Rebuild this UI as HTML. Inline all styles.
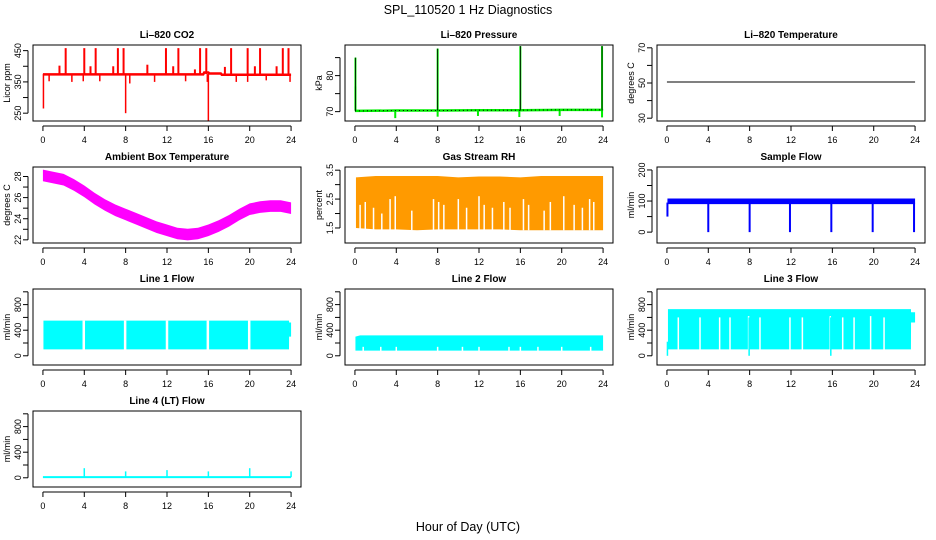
<!DOCTYPE html>
<html><head><meta charset="utf-8"><style>
html,body{margin:0;padding:0;background:#fff;}
svg{display:block;font-family:"Liberation Sans",Arial,sans-serif;}
</style></head><body>
<svg id="chart" width="936" height="540" viewBox="0 0 936 540">
<text x="468" y="14" text-anchor="middle" font-size="12.5">SPL_110520  1 Hz Diagnostics</text>
<text x="468" y="531" text-anchor="middle" font-size="12.5">Hour of Day (UTC)</text>
</svg>
<script>
// ---------- data ----------
const xTicks=[0,4,8,12,16,20,24];
// CO2
const co2BaseX=[0,15.5,15.6,16.0,16.1,17.2,17.3,24];
const co2BaseY=[374,374,380,380,377,377,373,373];
const co2SpikeX=[2.2,4.0,5.1,7.25,7.8,10.1,11.9,13.1,15.2,15.8,18.2,19.8,21.0,23.2,23.75,1.6,4.6,6.8,12.6,14.7,17.6,20.5,22.6];
const co2SpikeY=[458,458,458,458,458,405,458,458,458,458,458,458,458,458,458,402,400,400,400,390,398,400,400];
const co2DipX=[0.05,8.0,16.0,0.6,2.8,3.9,5.5,8.4,10.8,13.8,15.9,18.7,19.8,21.6,23.9];
const co2DipY=[265,250,225,352,350,352,352,345,350,352,350,350,350,355,350];
// Pressure
const presX=[0,4,8,12,16,20,24];
const presY=[70.2,70.3,70.3,70.4,70.4,70.5,70.5];
const presSpikeX=[0.05,8,16,23.9];
const presSpikeY=[85,87.5,88.2,88.2];
const presDipX=[3.9,8,11.9,15.9,19.8,23.9];
const presDipY=[68.2,68.6,68.8,68.5,68.8,68.4];
// Li-820 temperature
const tempX=[0,24];
const tempY=[50.6,50.6];
// Ambient box temperature
const ambX=[0,1,2,3,4,5,6,7,8,9,10,11,12,13,14,15,16,17,18,19,20,21,22,23,24];
const ambY=[28.1,27.9,27.7,27.2,26.6,25.9,25.3,24.8,24.4,24.0,23.6,23.2,22.9,22.6,22.5,22.6,22.9,23.3,23.8,24.4,24.9,25.1,25.2,25.2,25.0];
const ambHalf=[0.55];
// Gas stream RH
const rhX=[0.1,2,4,6,8,10,12,14,16,18,20,22,24];
const rhLo=[1.5,1.45,1.45,1.42,1.45,1.45,1.45,1.45,1.42,1.42,1.42,1.42,1.42];
const rhHi=[3.25,3.3,3.3,3.3,3.3,3.25,3.28,3.28,3.25,3.3,3.3,3.3,3.3];
const rhGapX=[0.5,1.0,1.8,2.6,3.4,3.9,5.5,7.6,8.1,8.6,10.0,10.8,12.0,12.5,13.3,14.4,15.0,16.3,16.8,18.3,18.9,20.2,21.2,22.0,22.7,23.1];
const rhGapTop=[2.3,2.4,2.2,2.0,2.5,2.6,2.1,2.5,2.4,2.3,2.5,2.2,2.6,2.3,2.2,2.4,2.2,2.5,2.3,2.1,2.4,2.6,2.3,2.2,2.5,2.4];
// Sample flow
const sfX=[0.05,24];
const sfLo=[90,90];
const sfHi=[108,108];
const sfDipX=[0.05,4,8,11.9,15.9,19.9,23.9];
const sfDipY=[50,0,0,0,0,0,0];
// Line flows
const l1X=[0.05,23.8,23.81,24];
const l1Lo=[100,100,300,300];
const l1Hi=[550,550,520,520];
const l1GapX=[3.95,7.95,12.0,15.95,19.95];
const l1GapTop=[550,550,550,550,550];
const l2X=[0.05,0.5,24];
const l2Lo=[80,80,80];
const l2Hi=[300,320,320];
const l2GapX=[0.8,2.5,4.0,8.0,10.4,12.0,14.9,16.0,17.7,20.0,22.8];
const l2GapTop=[140,140,140,140,140,140,140,140,140,140,140];
const l3X=[0.1,23.6,23.61,24];
const l3Lo=[100,100,520,520];
const l3Hi=[730,730,680,680];
const l3GapX=[1.1,3.2,5.1,6.1,7.9,9.0,11.9,13.1,15.8,17.0,18.1,19.7,21.0];
const l3GapTop=[600,600,600,600,620,600,600,600,620,600,600,620,600];
const l4X=[0,24];
const l4Y=[10,10];
const l4SpikeX=[4,8,12,16,20,24];
const l4SpikeY=[150,100,120,100,150,100];

// ---------- drawing ----------
const NS='http://www.w3.org/2000/svg';
const svg=document.getElementById('chart');
function mk(tag,attrs,parent){const e=document.createElementNS(NS,tag);for(const k in attrs)e.setAttribute(k,attrs[k]);(parent||svg).appendChild(e);return e;}
function panel(col,row,title,ylab,ymin,ymax,ticks,labels,name){
  const L=33+col*312,T=45+row*122,W=268,H=76;
  const g=mk('g',{});
  
  
  const xs=v=>L+W*(v+0.96)/25.92;
  const ys=v=>T+H-H*(v-ymin)/(ymax-ymin);
  const plot=mk('g',{},g);
  
  
  const fr=mk('rect',{x:L,y:T,width:W,height:H,fill:'none',stroke:'#000','stroke-width':1},g);
  
  
  const t=mk('text',{x:L+W/2,y:T-7,'text-anchor':'middle','font-size':10,'font-weight':'bold'},g);
  t.textContent=title;
  
  
  if(ylab){const yl=mk('text',{x:0,y:0,'text-anchor':'middle','font-size':9,transform:`translate(${L-23},${T+H/2}) rotate(-90)`},g);
  yl.textContent=ylab;
  
  }
  const xa=mk('g',{},g);
  
  
  mk('line',{x1:xs(0),x2:xs(24),y1:T+H+5,y2:T+H+5,stroke:'#000'},xa);
  xTicks.forEach(v=>{mk('line',{x1:xs(v),x2:xs(v),y1:T+H+5,y2:T+H+10,stroke:'#000'},xa);
    const tl=mk('text',{x:xs(v),y:T+H+22,'text-anchor':'middle','font-size':9},xa);tl.textContent=v;
    
    });
  const ya=mk('g',{},g);
  
  
  mk('line',{x1:L-5,x2:L-5,y1:ys(ticks[0]),y2:ys(ticks[ticks.length-1]),stroke:'#000'},ya);
  ticks.forEach(v=>{mk('line',{x1:L-5,x2:L-10,y1:ys(v),y2:ys(v),stroke:'#000'},ya);});
  labels.forEach(v=>{const tl=mk('text',{x:0,y:0,'text-anchor':'middle','font-size':9,transform:`translate(${L-12},${ys(v)}) rotate(-90)`},ya);tl.textContent=v;
    
    });
  return {g:plot,xs,ys};
}
function line(p,X,Y,attrs,name){const el=mk('polyline',Object.assign({points:X.map((x,i)=>p.xs(x)+','+p.ys(Y[i])).join(' '),fill:'none'},attrs),p.g);
  
  return el;}
function band(p,X,Lo,Hi,fill,name){const pts=X.map((x,i)=>p.xs(x)+','+p.ys(Hi[i])).concat(X.slice().reverse().map((x,j)=>p.xs(x)+','+p.ys(Lo[X.length-1-j])));
  const el=mk('polygon',{points:pts.join(' '),fill:fill},p.g);
  
  return el;}
function segs(p,X,Y0,Y,stroke,w,name){X.forEach((x,i)=>{const y0=Array.isArray(Y0)?Y0[i]:Y0;
  const el=mk('line',{x1:p.xs(x),x2:p.xs(x),y1:p.ys(y0),y2:p.ys(Y[i]),stroke:stroke,'stroke-width':w},p.g);
  
  });}

// CO2
let p=panel(0,0,'Li\u2013820 CO2','Licor ppm',225,468,[250,300,350,400,450],[250,350,450],'co2');
line(p,co2BaseX,co2BaseY,{stroke:'#ff0000','stroke-width':2.5},'co2-line');
segs(p,co2SpikeX,375,co2SpikeY,'#ff0000',2,'co2-spike');
segs(p,co2DipX,375,co2DipY,'#ff0000',1.5,'co2-dip');
// Pressure
p=panel(1,0,'Li\u2013820 Pressure','kPa',67.4,88.5,[70,75,80,85],[70,80],'pressure');
segs(p,presDipX,70.3,presDipY,'#00ee00',2,'pressure-dip');
segs(p,[0.05],70.3,[77],'#00ee00',2,'pressure-start');
segs(p,presSpikeX,70.3,presSpikeY,'#00ee00',2,'pressure-spike');
line(p,presX,presY,{stroke:'#00ee00','stroke-width':2.5},'pressure-line');
line(p,presX,presY,{stroke:'#000','stroke-width':1,'stroke-dasharray':'1,3'},'pressure-points');
segs(p,presSpikeX,70.3,presSpikeY,'#000',0.8,'pressure-spike-points');
// Temperature
p=panel(2,0,'Li\u2013820 Temperature','degrees C',28.4,71.6,[30,40,50,60,70],[30,50,70],'li820-temp');
line(p,tempX,tempY,{stroke:'#000','stroke-width':1},'li820-temp-line');
// Ambient
p=panel(0,1,'Ambient Box Temperature','degrees C',21.7,28.9,[22,23,24,25,26,27,28],[22,24,26,28],'ambient');
band(p,ambX,ambY.map(v=>v-ambHalf[0]),ambY.map(v=>v+ambHalf[0]),'#ff00ff','ambient-band');
// RH
p=panel(1,1,'Gas Stream RH','percent',0.98,3.61,[1.5,2,2.5,3,3.5],[1.5,2.5,3.5],'rh');
band(p,rhX,rhLo,rhHi,'#ff9a00','rh-band');
segs(p,rhGapX,1.42,rhGapTop,'#fff',1.5,'rh-gap');
// Sample flow
p=panel(2,1,'Sample Flow','ml/min',-35,209.5,[0,50,100,150,200],[0,100,200],'sample-flow');
band(p,sfX,sfLo,sfHi,'#0000ff','sample-flow-band');
segs(p,sfDipX,95,sfDipY,'#0000ff',2,'sample-flow-dip');
// Line flows
const fT=[0,200,400,600,800,1000],fL=[0,400,800];
p=panel(0,2,'Line 1 Flow','ml/min',-144,1044,fT,fL,'line1-flow');
band(p,l1X,l1Lo,l1Hi,'#00ffff','line1-band');
segs(p,l1GapX,95,l1GapTop,'#fff',2.5,'line1-gap');
p=panel(1,2,'Line 2 Flow','ml/min',-144,1044,fT,fL,'line2-flow');
band(p,l2X,l2Lo,l2Hi,'#00ffff','line2-band');
segs(p,l2GapX,75,l2GapTop,'#fff',1.5,'line2-gap');
p=panel(2,2,'Line 3 Flow','ml/min',-144,1044,fT,fL,'line3-flow');
band(p,l3X,l3Lo,l3Hi,'#00ffff','line3-band');
segs(p,l3GapX,95,l3GapTop,'#fff',1.5,'line3-gap');
segs(p,[0.05,7.95,15.85],[0,0,0],[220,600,600],'#00ffff',1.5,'line3-dip');
p=panel(0,3,'Line 4 (LT) Flow','ml/min',-144,1044,fT,fL,'line4-flow');
line(p,l4X,l4Y,{stroke:'#00ffff','stroke-width':2},'line4-line');
segs(p,l4SpikeX,10,l4SpikeY,'#00ffff',1.5,'line4-spike');
</script>
</body></html>
